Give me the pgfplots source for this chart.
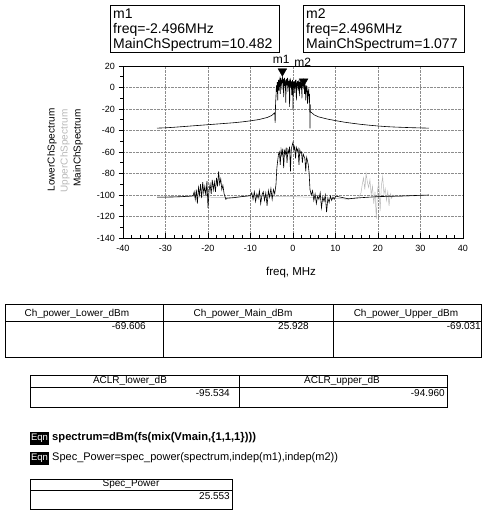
\documentclass[border=0pt]{standalone}
\usepackage{pgfplots}
\pgfplotsset{compat=1.18}
\usepackage{fontspec}
\setmainfont{Liberation Sans}
\definecolor{ugray}{gray}{0.72}
\definecolor{gridgray}{gray}{0.55}
\begin{document}
\begin{tikzpicture}
\useasboundingbox (0pt,0pt) rectangle (482pt,-518pt);
% marker readout boxes
\draw[line width=0.6pt] (110pt,-5pt) rectangle (279pt,-52pt);
\draw[line width=0.6pt] (303pt,-5pt) rectangle (464pt,-52pt);
\begin{scope}[every node/.style={anchor=base west, inner sep=0pt, font=\fontsize{14}{14}\selectfont}]
\node at (113pt,-19pt) {m1};
\node at (113pt,-34pt) {freq=-2.496MHz};
\node at (113pt,-48.5pt) {MainChSpectrum=10.482};
\node at (306pt,-19pt) {m2};
\node at (306pt,-34pt) {freq=2.496MHz};
\node at (306pt,-48.5pt) {MainChSpectrum=1.077};
\end{scope}
% y labels
\begin{scope}[every node/.style={rotate=90, inner sep=0pt, font=\fontsize{10}{10}\selectfont}]
\node at (52pt,-150pt) {LowerChSpectrum};
\node[text=ugray] at (65pt,-151pt) {UpperChSpectrum};
\node at (78pt,-148pt) {MainChSpectrum};
\end{scope}
\node[font=\fontsize{11.5}{11.5}\selectfont, inner sep=0pt] at (291pt,-273pt) {freq, MHz};
\begin{axis}[
  at={(123pt,-238pt)}, anchor=south west,
  scale only axis, width=340pt, height=172pt,
  xmin=-40, xmax=40, ymin=-140, ymax=20,
  xtick={-40,-30,...,40}, ytick={-140,-120,...,20},
  minor x tick num=4, minor y tick num=1,
  tick pos=left,
  xtick align=inside, ytick align=outside,
  major tick length=4.5pt, minor tick length=3pt,
  grid=major, major grid style={densely dotted, gridgray, line width=0.5pt},
  tick label style={font=\fontsize{9}{9}\selectfont},
  xticklabel shift=4pt,
  /pgf/number format/assume math mode=true,
  axis line style={black, line width=0.7pt},
  tick style={black, line width=0.6pt},
  clip mode=individual,
]
% Upper channel spectrum (light gray)
\addplot[ugray, line width=0.5pt] coordinates {
(-32,-102) (-24,-101.5) (-16,-102.5) (-10,-101) (0,-101.5) (10,-103) (13,-104) (15.5,-102)
(16.0,-98) (16.3,-90) (16.6,-84) (16.9,-95) (17.2,-80) (17.5,-88) (17.8,-93) (18.1,-86)
(18.4,-100) (18.7,-92) (19.0,-108) (19.3,-97) (19.6,-122) (19.9,-95) (20.2,-88) (20.5,-115)
(20.8,-91) (21.1,-83) (21.4,-99) (21.7,-94) (22.0,-105) (22.3,-97) (22.6,-110) (22.9,-99)
(23.2,-103) (23.5,-100) (24,-101.5) (28,-100.8) (32,-100.2)
};
% Lower channel spectrum (black)
\addplot[black, line width=0.6pt] coordinates {
(-32,-102) (-30,-102) (-28,-101.8) (-26,-101.5) (-24,-101) (-23.5,-100.5)
(-23.25,-97) (-23.0,-104) (-22.75,-95) (-22.5,-108) (-22.25,-93) (-22.0,-100) (-21.75,-90)
(-21.5,-103) (-21.25,-88) (-21.0,-98) (-20.75,-92) (-20.5,-101) (-20.25,-87) (-20.0,-112)
(-19.75,-96) (-19.5,-90) (-19.25,-99) (-19.0,-86) (-18.75,-95) (-18.5,-88) (-18.25,-97)
(-18.0,-84) (-17.75,-92) (-17.5,-78) (-17.25,-90) (-17.0,-85) (-16.75,-95) (-16.5,-91)
(-16.2,-99) (-15.8,-104) (-15.5,-103) (-14,-102.5) (-12,-101.5) (-10,-100.5)
(-9.7,-98) (-9.4,-104) (-9.1,-97) (-8.8,-106) (-8.5,-99) (-8.2,-103) (-7.9,-96) (-7.6,-108)
(-7.3,-100) (-7.0,-97) (-6.7,-105) (-6.4,-98) (-6.1,-110) (-5.8,-96) (-5.5,-102) (-5.2,-94)
(-4.9,-104) (-4.6,-95) (-4.3,-99) (-4.0,-90) (-3.8,-75) (-3.6,-68) (-3.4,-62)
(-3.2,-60) (-3.0,-72) (-2.8,-58) (-2.6,-63) (-2.4,-57) (-2.2,-75) (-2.0,-59) (-1.8,-62)
(-1.6,-56) (-1.4,-70) (-1.2,-58) (-1.0,-61) (-0.8,-55) (-0.6,-78) (-0.4,-57) (-0.2,-54)
(0.0,-51) (0.2,-58) (0.4,-55) (0.6,-66) (0.8,-56) (1.0,-59) (1.2,-57) (1.4,-72) (1.6,-58)
(1.8,-61) (2.0,-60) (2.2,-70) (2.4,-62) (2.6,-64) (2.8,-66) (3.0,-78) (3.2,-65) (3.4,-68)
(3.6,-72) (3.8,-80) (4.0,-95)
(4.3,-100) (4.6,-96) (4.9,-105) (5.2,-99) (5.5,-108) (5.8,-101) (6.1,-104) (6.4,-98)
(6.7,-112) (7.0,-102) (7.3,-106) (7.6,-100) (7.9,-116) (8.2,-103) (8.5,-107) (8.8,-101)
(9.1,-105) (9.4,-102) (9.7,-104) (10.0,-101)
(13,-103.5) (16,-102.5) (20,-101.5) (25,-101) (32,-100)
};
% Main channel spectrum (black)
\addplot[black, line width=0.6pt] coordinates {
(-32,-37.8) (-30,-37.5) (-28,-37.0) (-26,-36.4) (-24,-35.8) (-22,-35.2) (-20,-34.6)
(-18,-34.0) (-16,-33.4) (-14,-32.8) (-12,-32.0) (-10,-31.0) (-8,-29.8) (-6,-27.8)
(-5,-26.0) (-4.3,-23.5) (-4.2,-33) (-4.1,-15)
(-4.0,-8) (-3.9,2) (-3.8,-4) (-3.7,5) (-3.6,-12) (-3.5,4) (-3.4,7) (-3.3,-3) (-3.2,6)
(-3.1,8) (-3.0,-6) (-2.9,9) (-2.8,3) (-2.7,7) (-2.6,-2) (-2.5,10.5) (-2.4,4) (-2.3,8)
(-2.2,-9) (-2.1,6) (-2.0,9) (-1.9,1) (-1.8,7) (-1.7,-14) (-1.6,5) (-1.5,8) (-1.4,2)
(-1.3,9) (-1.2,-4) (-1.1,6) (-1.0,3) (-0.9,8) (-0.8,-18) (-0.7,5) (-0.6,7) (-0.5,0)
(-0.4,6) (-0.3,-7) (-0.2,4) (-0.1,7) (0.0,-20) (0.1,5) (0.2,2) (0.3,6) (0.4,-5) (0.5,4)
(0.6,7) (0.7,1) (0.8,-12) (0.9,5) (1.0,3) (1.1,6) (1.2,-3) (1.3,4) (1.4,7) (1.5,-8)
(1.6,5) (1.7,2) (1.8,6) (1.9,-2) (2.0,4) (2.1,-10) (2.2,5) (2.3,3) (2.4,6) (2.5,1.1)
(2.6,4) (2.7,-6) (2.8,3) (2.9,0) (3.0,-12) (3.1,2) (3.2,-4) (3.3,1) (3.4,-15) (3.5,-3)
(3.6,-8) (3.7,-1) (3.8,-14) (3.9,-6) (4.0,-38)
(4.05,-16) (4.1,-22.5) (5,-25.5) (6,-27.3) (8,-29.3) (10,-30.8) (12,-32.2) (14,-33.3)
(16,-34.3) (18,-35.1) (20,-35.8) (22,-36.4) (24,-36.8) (26,-37.1) (28,-37.4) (30,-37.6)
(32,-37.8)
};
% markers m1, m2
\addplot[only marks, mark=triangle*, mark size=5pt, black,
  mark options={yshift=5pt, rotate=180}] coordinates {(-2.496,10.482) (2.496,1.077)};
\node[font=\fontsize{12}{12}\selectfont, inner sep=0pt] at (axis cs:-2.8,26.5) {m1};
\node[font=\fontsize{12}{12}\selectfont, inner sep=0pt] at (axis cs:2.3,23.7) {m2};
\end{axis}
% Table 1
\begin{scope}[line width=0.6pt]
\draw (5pt,-304pt) rectangle (481.5pt,-357pt);
\draw (5pt,-321pt) -- (481.5pt,-321pt);
\draw (163pt,-304pt) -- (163pt,-357pt);
\draw (333pt,-304pt) -- (333pt,-357pt);
\end{scope}
\begin{scope}[every node/.style={inner sep=0pt, font=\fontsize{10}{10}\selectfont}]
\node at (77pt,-313.5pt) {Ch\_power\_Lower\_dBm};
\node at (243pt,-313.5pt) {Ch\_power\_Main\_dBm};
\node at (406pt,-313.5pt) {Ch\_power\_Upper\_dBm};
\node[anchor=east] at (146pt,-326pt) {-69.606};
\node[anchor=east] at (309pt,-326pt) {25.928};
\node[anchor=east] at (481pt,-326pt) {-69.031};
\end{scope}
% Table 2
\begin{scope}[line width=0.6pt]
\draw (30pt,-375pt) rectangle (447pt,-407pt);
\draw (30pt,-387pt) -- (447pt,-387pt);
\draw (239pt,-375pt) -- (239pt,-407pt);
\end{scope}
\begin{scope}[every node/.style={inner sep=0pt, font=\fontsize{10}{10}\selectfont}]
\node at (130pt,-381pt) {ACLR\_lower\_dB};
\node at (342pt,-381pt) {ACLR\_upper\_dB};
\node[anchor=east] at (230pt,-393pt) {-95.534};
\node[anchor=east] at (445pt,-393pt) {-94.960};
\end{scope}
% Equations
\fill[black] (30pt,-432pt) rectangle (49pt,-444.5pt);
\node[text=white, inner sep=0pt, font=\fontsize{9.5}{9.5}\selectfont] at (39.5pt,-438.2pt) {Eqn};
\node[anchor=west, inner sep=0pt, font=\bfseries\fontsize{11.2}{11.2}\selectfont] at (52pt,-438pt) {spectrum=dBm(fs(mix(Vmain,\{1,1,1\})))};
\fill[black] (30pt,-452pt) rectangle (49pt,-464.5pt);
\node[text=white, inner sep=0pt, font=\fontsize{9.5}{9.5}\selectfont] at (39.5pt,-458.2pt) {Eqn};
\node[anchor=west, inner sep=0pt, font=\fontsize{11}{11}\selectfont] at (52pt,-458pt) {Spec\_Power=spec\_power(spectrum,indep(m1),indep(m2))};
% Spec_Power table
\begin{scope}[line width=0.6pt]
\draw (30pt,-479pt) rectangle (232pt,-509pt);
\draw (30pt,-490pt) -- (232pt,-490pt);
\end{scope}
\node[inner sep=0pt, font=\fontsize{10}{10}\selectfont] at (131pt,-484.5pt) {Spec\_Power};
\node[anchor=east, inner sep=0pt, font=\fontsize{10}{10}\selectfont] at (230pt,-496pt) {25.553};
\end{tikzpicture}
\end{document}
